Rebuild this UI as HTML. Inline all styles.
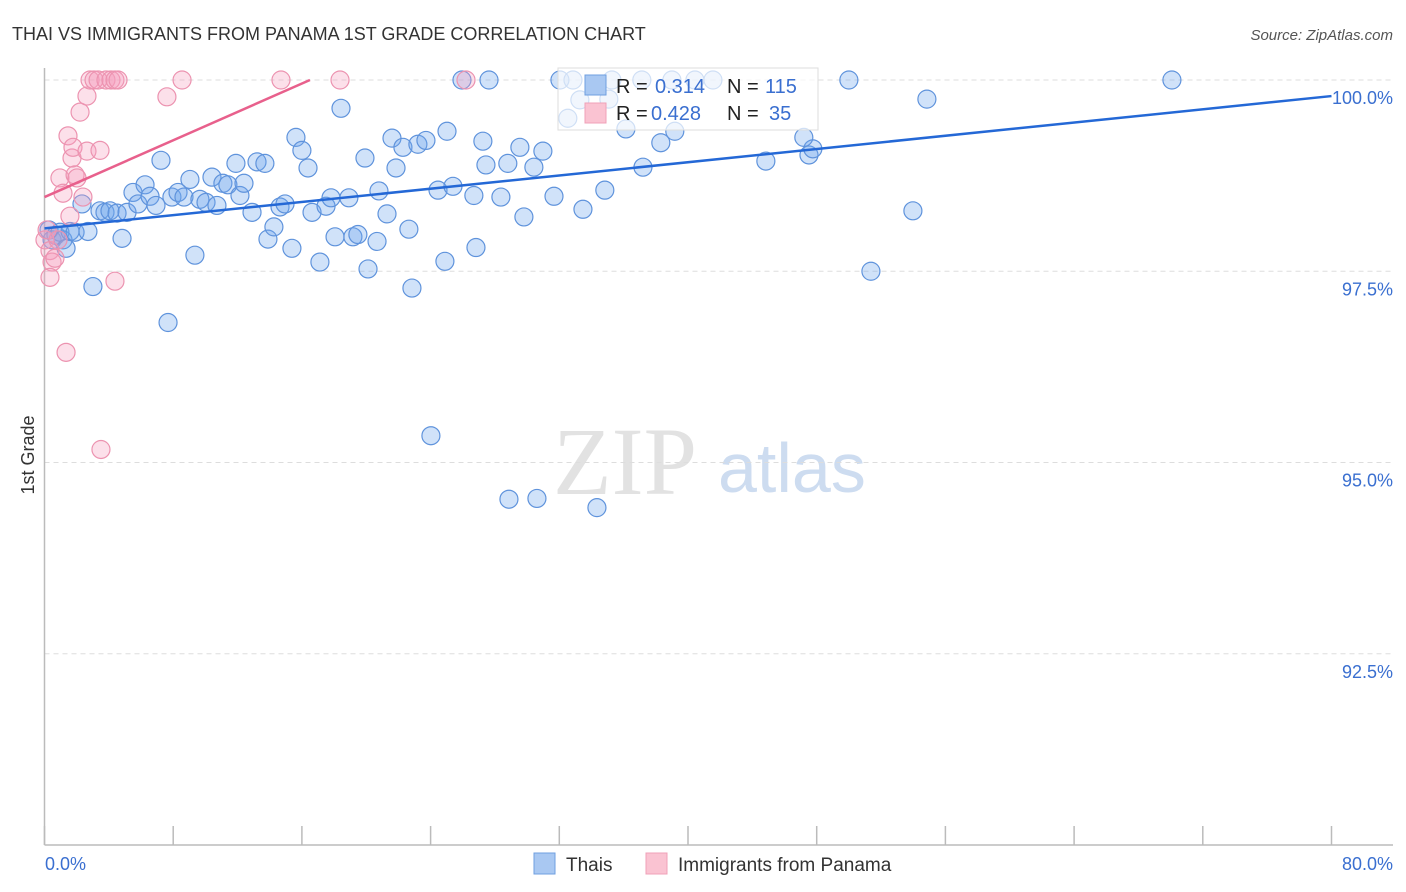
<!DOCTYPE html>
<html><head><meta charset="utf-8"><style>
body{margin:0;background:#fff;font-family:"Liberation Sans",sans-serif;}
svg{display:block}
</style></head><body>
<svg id="chart" width="1406" height="892" xmlns="http://www.w3.org/2000/svg">
<text x="12" y="40" font-size="18" fill="#333">THAI VS IMMIGRANTS FROM PANAMA 1ST GRADE CORRELATION CHART</text>
<text x="1393" y="40" font-size="15" fill="#555" text-anchor="end" font-style="italic">Source: ZipAtlas.com</text>
<text x="553" y="494" font-size="96" fill="#e2e2e2" font-family="Liberation Serif,serif">ZIP</text>
<text x="718" y="492" font-size="70" fill="#cddcf0">atlas</text>
<text transform="translate(34,455) rotate(-90)" font-size="18" fill="#333" text-anchor="middle">1st Grade</text>
<g id="grid"></g><g id="axes"></g><g id="pts"></g><g id="lines"></g>
<g>
<rect x="558" y="68" width="260" height="62" fill="#fff" fill-opacity="0.7" stroke="#ddd"/>
<rect x="585" y="75" width="21" height="20" fill="#a9c8f2" stroke="#6f9fe0"/>
<rect x="585" y="103" width="21" height="20" fill="#fac3d2" stroke="#f0a0b8"/>
<g font-size="20">
<text x="616" y="93" fill="#222">R = </text><text x="655" y="93" fill="#3a6fd0">0.314</text>
<text x="727" y="93" fill="#222">N = </text><text x="765" y="93" fill="#3a6fd0">115</text>
<text x="616" y="120" fill="#222">R = </text><text x="651" y="120" fill="#3a6fd0">0.428</text>
<text x="727" y="120" fill="#222">N = </text><text x="769" y="120" fill="#3a6fd0">35</text>
</g></g>
<g>
<rect x="534" y="853" width="21" height="21" fill="#a9c8f2" stroke="#6f9fe0"/>
<text x="566" y="871" font-size="19" fill="#333">Thais</text>
<rect x="646" y="853" width="21" height="21" fill="#fac3d2" stroke="#f0a0b8"/>
<text x="678" y="871" font-size="19" fill="#333">Immigrants from Panama</text>
</g>
</svg>
<script>
const blueX=[0.28,0.47,0.71,0.96,1.15,1.34,1.59,1.90,2.70,2.33,3.01,3.45,3.76,4.07,4.51,4.82,5.13,5.50,5.81,6.25,6.56,6.93,7.24,7.68,7.92,8.30,8.67,9.04,9.35,9.66,10.04,10.41,10.72,11.09,11.40,11.90,12.15,12.40,12.90,13.21,13.70,13.89,14.26,14.64,14.95,15.38,15.63,16.00,16.38,16.63,17.12,17.50,17.81,18.06,18.43,18.92,19.17,19.48,19.92,20.11,20.67,20.79,21.29,21.60,21.85,22.28,22.65,22.84,23.21,23.71,24.02,24.46,24.89,25.02,25.39,25.95,26.69,26.82,27.25,27.44,28.37,28.80,28.87,29.55,29.80,30.42,30.61,30.98,31.67,32.04,32.85,33.28,33.47,34.34,34.83,35.27,36.14,37.13,38.31,39.00,39.18,40.43,41.55,44.84,47.52,47.76,47.20,50.00,51.37,53.98,54.85,70.08,37.20,32.53,27.63,35.08];
const blueY=[98.04,97.91,97.97,98.01,97.91,97.80,98.02,98.01,98.02,98.38,97.30,98.29,98.27,98.29,98.26,97.93,98.27,98.53,98.38,98.63,98.48,98.36,98.95,96.83,98.47,98.53,98.47,98.70,97.71,98.44,98.40,98.73,98.36,98.65,98.63,98.91,98.49,98.65,98.27,98.93,98.91,97.92,98.08,98.34,98.38,97.80,99.25,99.08,98.85,98.27,97.62,98.35,98.46,97.95,99.63,98.46,97.95,97.98,98.98,97.53,97.89,98.55,98.25,99.24,98.85,99.12,98.05,97.28,99.16,99.21,95.35,98.56,97.63,99.33,98.61,100,98.49,97.81,99.20,98.89,98.47,98.91,94.52,99.12,98.21,98.86,94.53,99.07,98.48,100,100,99.74,98.31,94.41,98.56,100,99.36,100,99.18,100,99.33,100,100,98.94,99.02,99.10,99.25,100,97.50,98.29,99.75,100,98.86,99.50,100,99.75];
const pinkX=[0.03,0.16,0.34,0.47,0.34,0.65,0.84,0.96,1.15,1.34,1.46,1.58,1.71,1.77,1.90,2.02,2.21,2.39,2.64,2.64,2.83,3.08,3.33,3.45,3.82,4.13,4.38,4.57,4.38,3.51,7.61,8.55,14.70,18.37,26.20];
const pinkY=[97.91,98.04,97.77,97.62,97.42,97.67,97.91,98.72,98.52,96.44,99.27,98.22,98.98,99.12,98.76,98.72,99.58,98.47,99.79,99.07,100,100,100,99.08,100,100,100,100,97.37,95.17,99.78,100,100,100,100];
const blueTrendX=[0,80];
const blueTrendY=[98.06,99.79];
const pinkTrendX=[0,16.5];
const pinkTrendY=[98.47,100];
const yTicks=[100,97.5,95,92.5];
const yTickLabels=["100.0%","97.5%","95.0%","92.5%"];
const xTicks=[0,8,16,24,32,40,48,56,64,72,80];
const xEndLabels=["0.0%","80.0%"];

const NS="http://www.w3.org/2000/svg";
const sx=v=>44.5+v*16.0875;
const sy=v=>80+(100-v)*76.5;
function mk(tag,attrs,parent){const e=document.createElementNS(NS,tag);for(const k in attrs)e.setAttribute(k,attrs[k]);document.getElementById(parent).appendChild(e);return e;}

yTicks.forEach((t,i)=>{
  const g=mk('line',{x1:44.5,x2:1393,y1:sy(t),y2:sy(t),stroke:'#ddd','stroke-dasharray':'5,4'},'grid');
  
  
  const l=mk('text',{x:1393,y:sy(t)+24,'font-size':18,fill:'#3a6fd0','text-anchor':'end'},'grid');
  l.textContent=yTickLabels[i];
  
  
});
const ax=mk('line',{x1:44.5,x2:44.5,y1:68,y2:845,stroke:'#bbb','stroke-width':1.5},'axes');


const bx=mk('line',{x1:44.5,x2:1393,y1:845,y2:845,stroke:'#bbb','stroke-width':1.5},'axes');


xTicks.forEach(t=>{
  const k=mk('line',{x1:sx(t),x2:sx(t),y1:826,y2:845,stroke:'#bbb','stroke-width':1.5},'axes');
  
  
});
const xl0=mk('text',{x:45,y:870,'font-size':18,fill:'#3a6fd0'},'axes');
xl0.textContent=xEndLabels[0];


const xl1=mk('text',{x:1393,y:870,'font-size':18,fill:'#3a6fd0','text-anchor':'end'},'axes');
xl1.textContent=xEndLabels[1];



blueX.forEach((x,i)=>{
  const c=mk('circle',{cx:sx(x),cy:sy(blueY[i]),r:9,fill:'rgba(110,165,235,0.32)',stroke:'#5f93dc','stroke-width':1.2},'pts');
  
  
});
pinkX.forEach((x,i)=>{
  const c=mk('circle',{cx:sx(x),cy:sy(pinkY[i]),r:9,fill:'rgba(245,160,190,0.32)',stroke:'#ec93b0','stroke-width':1.2},'pts');
  
  
});
const bl=mk('line',{x1:sx(blueTrendX[0]),y1:sy(blueTrendY[0]),x2:sx(blueTrendX[1]),y2:sy(blueTrendY[1]),stroke:'#2468d6','stroke-width':2.5},'lines');


const pl=mk('line',{x1:sx(pinkTrendX[0]),y1:sy(pinkTrendY[0]),x2:sx(pinkTrendX[1]),y2:sy(pinkTrendY[1]),stroke:'#e8608c','stroke-width':2.5},'lines');


</script>
</body></html>
